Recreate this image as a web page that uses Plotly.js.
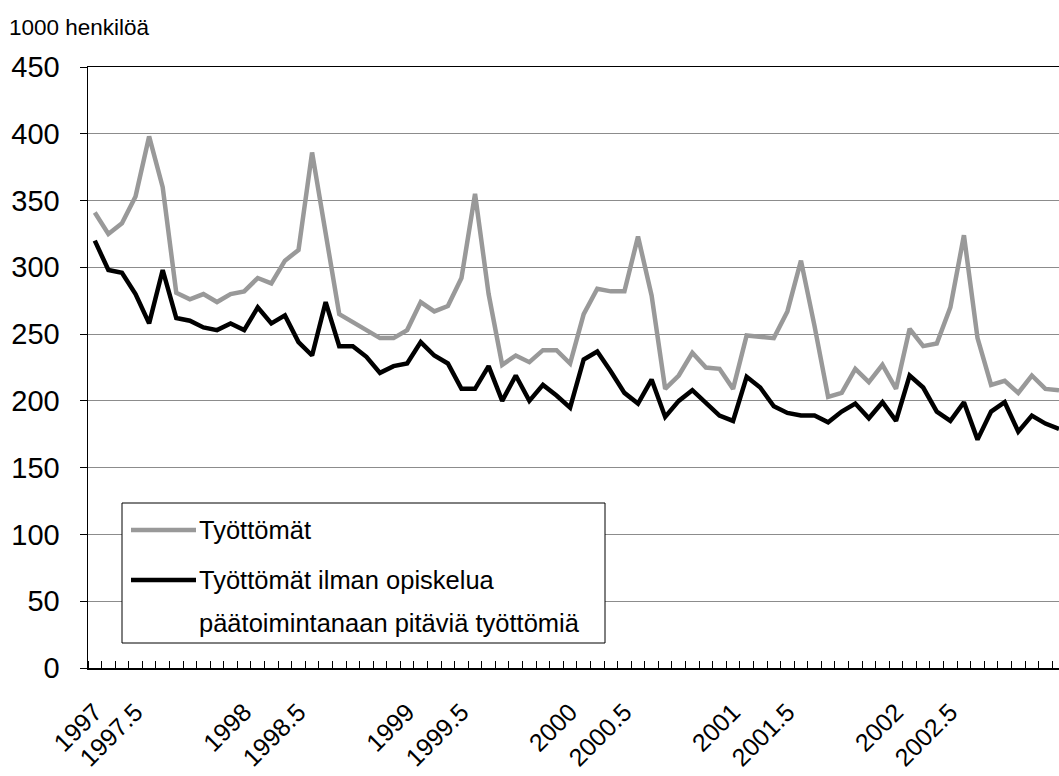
<!DOCTYPE html>
<html>
<head>
<meta charset="utf-8">
<script src="https://cdn.plot.ly/plotly-3.0.1.min.js"></script>
<style>html,body{margin:0;padding:0;background:#fff;overflow:hidden}#chart{width:1059px;height:776px}</style>
</head>
<body>
<div id="chart"></div>
<script>
// Monthly categories 1997-01 .. 2002-12
const years = [1997, 1998, 1999, 2000, 2001, 2002];
const months = [];
years.forEach(y => { for (let m = 1; m <= 12; m++) months.push(y + '-' + String(m).padStart(2, '0')); });

// Työttömät (1000 henkilöä)
const tyottomat = [
  341, 325, 333, 353, 398, 360, 281, 276, 280, 274, 280, 282,
  292, 288, 305, 313, 386, 324, 265, 259, 253, 247, 247, 253,
  274, 267, 271, 292, 355, 280, 227, 234, 229, 238, 238, 228,
  265, 284, 282, 282, 323, 279, 209, 219, 236, 225, 224, 209,
  249, 248, 247, 267, 305, 256, 203, 206, 224, 214, 227, 209,
  254, 241, 243, 270, 324, 247, 212, 215, 206, 219, 209, 208
];

// Työttömät ilman opiskelua päätoimintanaan pitäviä työttömiä
const ilmanOpiskelijoita = [
  320, 298, 296, 280, 258, 298, 262, 260, 255, 253, 258, 253,
  270, 258, 264, 244, 234, 274, 241, 241, 233, 221, 226, 228,
  244, 234, 228, 209, 209, 226, 200, 219, 200, 212, 204, 195,
  231, 237, 222, 206, 198, 216, 188, 200, 208, 199, 189, 185,
  218, 210, 196, 191, 189, 189, 184, 192, 198, 187, 199, 185,
  219, 210, 192, 185, 199, 171, 192, 199, 177, 189, 183, 179
];

// x tick labels and the month they sit on
const tickMonths = ['1997-01','1997-04','1997-12','1998-04','1998-12','1999-04','1999-12','2000-04','2000-12','2001-04','2001-12','2002-04'];
const tickLabels = ['1997','1997.5','1998','1998.5','1999','1999.5','2000','2000.5','2001','2001.5','2002','2002.5'];

// legend texts
const seriesNames = ['Työttömät', 'Työttömät ilman opiskelua', 'päätoimintanaan pitäviä työttömiä'];
const seriesColors = ['#999999', '#000000'];

const xIdx = months.map((_, i) => i);
const tickIdx = tickMonths.map(m => months.indexOf(m));

const font = 'Arial, "Liberation Sans", sans-serif';

const traces = [
  {x: xIdx, y: tyottomat, type: 'scatter', mode: 'lines', name: seriesNames[0],
   line: {color: seriesColors[0], width: 4.5}, text: months, hoverinfo: 'text+y'},
  {x: xIdx, y: ilmanOpiskelijoita, type: 'scatter', mode: 'lines',
   name: seriesNames[1] + ' ' + seriesNames[2],
   line: {color: seriesColors[1], width: 4.5}, text: months, hoverinfo: 'text+y'}
];

// pixel -> paper helpers for the drawn legend box
const L = 88, T = 67, W = 971, H = 601;
const px = x => (x - L) / W;
const py = y => (T + H - y) / H;

const legendShapes = [
  {type: 'rect', xref: 'paper', yref: 'paper', x0: px(122), x1: px(605), y0: py(503), y1: py(643),
   line: {color: '#000', width: 1}, fillcolor: '#fff', layer: 'above'},
  {type: 'line', xref: 'paper', yref: 'paper', x0: px(131), x1: px(196), y0: py(530), y1: py(530),
   line: {color: seriesColors[0], width: 4.5}, layer: 'above'},
  {type: 'line', xref: 'paper', yref: 'paper', x0: px(131), x1: px(196), y0: py(580), y1: py(580),
   line: {color: seriesColors[1], width: 4.5}, layer: 'above'}
];

const legendFont = {size: 25.5, family: font, color: '#000'};
const legendAnn = [
  {text: seriesNames[0], x: px(197), y: py(530)},
  {text: seriesNames[1], x: px(197), y: py(580)},
  {text: seriesNames[2], x: px(197), y: py(623)}
].map(a => Object.assign(a, {xref: 'paper', yref: 'paper', xanchor: 'left', yanchor: 'middle',
  showarrow: false, font: legendFont}));

const layout = {
  width: 1059, height: 776,
  margin: {l: 88, r: 0, t: 67, b: 108},
  paper_bgcolor: '#fff', plot_bgcolor: '#fff',
  font: {family: font, color: '#000'},
  showlegend: false,
  xaxis: {
    range: [-0.5, 71.0],
    tickmode: 'array', tickvals: tickIdx, ticktext: tickLabels,
    tickangle: -45, ticks: '', tickfont: {size: 25, family: font},
    ticklabelstandoff: 18,
    showline: true, linecolor: '#000', linewidth: 1.5, mirror: true,
    showgrid: false, zeroline: false,
    minor: {tick0: -0.5, dtick: 1, ticks: 'inside', ticklen: 7, tickcolor: '#000', tickwidth: 1, showgrid: false}
  },
  yaxis: {
    range: [0, 450], tickmode: 'linear', tick0: 0, dtick: 50,
    ticks: 'outside', ticklen: 7, tickcolor: '#000',
    tickfont: {size: 29, family: font},
    ticklabelstandoff: 14,
    showline: true, linecolor: '#000', linewidth: 1.5,
    showgrid: true, gridcolor: '#8c8c8c', gridwidth: 1,
    zeroline: false
  },
  shapes: legendShapes,
  annotations: [{
    text: '1000 henkilöä', xref: 'paper', yref: 'paper',
    x: px(7), y: py(27), xanchor: 'left', yanchor: 'middle',
    showarrow: false, font: {size: 22.5, family: font, color: '#000'}
  }].concat(legendAnn)
};

Plotly.newPlot('chart', traces, layout, {displayModeBar: false, staticPlot: true});
</script>
</body>
</html>
